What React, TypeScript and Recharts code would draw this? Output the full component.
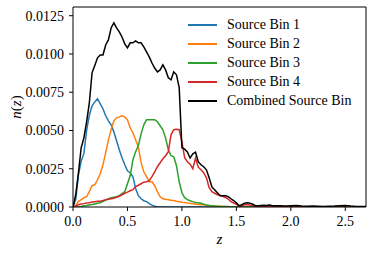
import { LineChart, Line, XAxis, YAxis, ReferenceLine } from "recharts";

const FONT = "'Liberation Serif', 'DejaVu Serif', serif";

// redshift grid (fine up to 1.85, coarser in the empty tail)
const Z = [
  0, 0.025, 0.05, 0.075, 0.1, 0.125, 0.15, 0.175, 0.2, 0.225,
  0.25, 0.275, 0.3, 0.325, 0.35, 0.375, 0.4, 0.425, 0.45, 0.475,
  0.5, 0.525, 0.55, 0.575, 0.6, 0.625, 0.65, 0.675, 0.7, 0.725,
  0.75, 0.775, 0.8, 0.825, 0.85, 0.875, 0.9, 0.925, 0.95, 0.975,
  1.0, 1.025, 1.05, 1.075, 1.1, 1.125, 1.15, 1.175, 1.2, 1.225,
  1.25, 1.275, 1.3, 1.325, 1.35, 1.375, 1.4, 1.425, 1.45, 1.475,
  1.5, 1.525, 1.55, 1.575, 1.6, 1.625, 1.65, 1.675, 1.7, 1.725,
  1.75, 1.775, 1.8, 1.825, 1.85,
  1.9, 1.95, 2.0, 2.05, 2.1, 2.15, 2.2, 2.25, 2.3, 2.35, 2.4, 2.45, 2.5,
  2.55, 2.6, 2.65, 2.69,
];

const BIN1 = [
  0, 0.00048, 0.0021, 0.003, 0.0035, 0.005, 0.006, 0.00661, 0.00687, 0.00707,
  0.00674, 0.00642, 0.00596, 0.00563, 0.00537, 0.00491, 0.00433, 0.00374, 0.00322, 0.00276,
  0.00237, 0.00224, 0.00198, 0.0012, 0.00074, 0.00054, 0.00041, 0.00035, 0.00022, 0.00012,
  0.00005, 0.00002, 0, 0, 0, 0, 0, 0, 0, 0,
  0, 0, 0, 0, 0, 0, 0, 0, 0, 0,
  0, 0, 0, 0, 0, 0, 0, 0, 0, 0,
  0, 0, 0, 0, 0, 0, 0, 0, 0, 0,
  0, 0, 0, 0, 0,
  0, 0, 0, 0, 0, 0, 0, 0, 0, 0, 0, 0, 0, 0, 0, 0, 0,
];

const BIN2 = [
  0, 0.0001, 0.00035, 0.00048, 0.00061, 0.00067, 0.001, 0.00139, 0.00145, 0.00178,
  0.00217, 0.00276, 0.00354, 0.00439, 0.00505, 0.00563, 0.00583, 0.00589, 0.00596, 0.00589,
  0.0057, 0.00518, 0.00485, 0.00439, 0.00393, 0.0029, 0.0023, 0.00198, 0.00165, 0.00165,
  0.00139, 0.001, 0.00067, 0.00054, 0.0005, 0.00048, 0.00044, 0.00042, 0.00038, 0.00035,
  0.00031, 0.00029, 0.00026, 0.00024, 0.00022, 0.0002, 0.00017, 0.00015, 0.00015, 0.00012,
  0.0001, 0.00008, 0.00007, 0.00005, 0.00005, 0.00004, 0.00003, 0.00003, 0.00002, 0.00002,
  0.00001, 0, 0, 0, 0, 0, 0, 0, 0, 0,
  0, 0, 0, 0, 0,
  0, 0, 0, 0, 0, 0, 0, 0, 0, 0, 0, 0, 0, 0, 0, 0, 0,
];

const BIN3 = [
  0, 0, 0, 0.00003, 0.00008, 0.0001, 0.00013, 0.00016, 0.0002, 0.00024,
  0.00028, 0.00035, 0.00045, 0.00054, 0.00061, 0.00064, 0.00067, 0.00074, 0.00087, 0.001,
  0.00152, 0.00204, 0.00309, 0.00361, 0.004, 0.00478, 0.00537, 0.0057, 0.0057, 0.0057,
  0.0057, 0.00557, 0.00531, 0.00505, 0.00452, 0.00374, 0.00335, 0.00328, 0.0027, 0.00165,
  0.00093, 0.00061, 0.00048, 0.00041, 0.00035, 0.0003, 0.00028, 0.00024, 0.00018, 0.00014,
  0.0001, 0.00008, 0.00006, 0.00005, 0.00004, 0.00003, 0.00003, 0.00002, 0.00002, 0.00001,
  0, 0, 0, 0, 0, 0, 0, 0, 0, 0,
  0, 0, 0, 0, 0,
  0, 0, 0, 0, 0, 0, 0, 0, 0, 0, 0, 0, 0, 0, 0, 0, 0,
];

const BIN4 = [
  0, 0.00005, 0.00015, 0.0002, 0.00022, 0.00026, 0.00028, 0.00032, 0.00035, 0.00038,
  0.00038, 0.00042, 0.00048, 0.0005, 0.00054, 0.00057, 0.00064, 0.0007, 0.0008, 0.0009,
  0.00097, 0.00106, 0.00113, 0.00133, 0.00142, 0.00152, 0.00162, 0.00165, 0.00172, 0.00198,
  0.0023, 0.00263, 0.00289, 0.00315, 0.00335, 0.00361, 0.00472, 0.00505, 0.00508, 0.00505,
  0.00426, 0.00322, 0.00296, 0.0028, 0.0025, 0.0032, 0.0026, 0.00243, 0.00224, 0.00191,
  0.00126, 0.001, 0.0009, 0.0008, 0.00077, 0.0007, 0.00062, 0.00052, 0.00035, 0.00026,
  0.00018, 0.00007, 0.00008, 0.00015, 0.00015, 0.00013, 0.00008, 0.00006, 0.00006, 0.00006,
  0.00006, 0.00005, 0.00006, 0.00005, 0.00004,
  0.00003, 0.00002, 0.00002, 0.00001, 0, 0, 0, 0, 0, 0, 0, 0, 0, 0, 0, 0, 0,
];

const COMBINED = [
  0, 0.0008, 0.00224, 0.00387, 0.00452, 0.00557, 0.0068, 0.00877, 0.00925, 0.00975,
  0.00994, 0.00994, 0.01059, 0.01092, 0.0117, 0.01203, 0.0117, 0.01144, 0.01111, 0.01066,
  0.0104, 0.01073, 0.01073, 0.01086, 0.01073, 0.01073, 0.01046, 0.01014, 0.00981, 0.00941,
  0.00908, 0.00883, 0.00896, 0.00929, 0.00896, 0.00844, 0.00831, 0.00883, 0.00864, 0.0078,
  0.00387, 0.00378, 0.0036, 0.0032, 0.00348, 0.00358, 0.00296, 0.00276, 0.00263, 0.00243,
  0.00191, 0.00131, 0.00113, 0.00093, 0.00074, 0.00074, 0.00074, 0.00067, 0.00054, 0.00041,
  0.00028, 0.00008, 0.00015, 0.00025, 0.00028, 0.00025, 0.00018, 0.00008, 0.00008, 0.0001,
  0.00012, 0.0001, 0.00013, 0.0001, 0.00008,
  0.00008, 0.00006, 0.00008, 0.0001, 0.00006, 0.00005, 0.00006, 0.00005, 0.00004, 0.00005,
  0.00006, 0.00008, 0.0001, 0.00006, 0.00004, 0.00003, 0.00003,
];

const X_MAX = 2.69;
const Y_MAX = 0.01307;
const X_TICKS = [0, 0.5, 1.0, 1.5, 2.0, 2.5];
const Y_TICKS = [0, 0.0025, 0.005, 0.0075, 0.01, 0.0125];

const SERIES = [
  { key: "bin1", name: "Source Bin 1", color: "#1f77b4", values: BIN1 },
  { key: "bin2", name: "Source Bin 2", color: "#ff7f0e", values: BIN2 },
  { key: "bin3", name: "Source Bin 3", color: "#2ca02c", values: BIN3 },
  { key: "bin4", name: "Source Bin 4", color: "#d62728", values: BIN4 },
  { key: "all", name: "Combined Source Bin", color: "#000000", values: COMBINED },
];

const data = Z.map((z, i) => {
  const row: Record<string, number> = { z };
  SERIES.forEach((s) => {
    row[s.key] = s.values[i];
  });
  return row;
});

const tickStyle = { fontFamily: FONT, fontSize: 14, fill: "#000" };

// x tick label, vertically centred a fixed distance under the tick
function XTick(props: any) {
  const { x, y, payload } = props;
  return (
    <text
      x={x}
      y={y + 6}
      textAnchor="middle"
      dominantBaseline="central"
      fontFamily={FONT}
      fontSize={14}
      fill="#000"
    >
      {Number(payload.value).toFixed(1)}
    </text>
  );
}

// legend drawn as an overlay so it doesn't eat into the plot area
function ChartLegend() {
  return (
    <div
      style={{
        position: "absolute",
        left: 188,
        top: 15.5,
        fontFamily: FONT,
        fontSize: 14,
        color: "#000",
        pointerEvents: "none",
      }}
    >
      {SERIES.map((s) => (
        <div
          key={s.key}
          style={{ display: "flex", alignItems: "center", height: 19 }}
        >
          <svg width={29} height={4} style={{ marginRight: 10 }}>
            <line x1={0} y1={2} x2={29} y2={2} stroke={s.color} strokeWidth={2} />
          </svg>
          <span style={{ whiteSpace: "nowrap" }}>{s.name}</span>
        </div>
      ))}
    </div>
  );
}

function XLabel(props: any) {
  const vb = props.viewBox;
  return (
    <text
      x={vb.x + vb.width / 2}
      y={vb.y + 32}
      textAnchor="middle"
      dominantBaseline="central"
      fontFamily={FONT}
      fontSize={15}
      fontStyle="italic"
      fill="#000"
    >
      z
    </text>
  );
}

function YLabel(props: any) {
  const vb = props.viewBox;
  const cx = vb.x + 16;
  const cy = vb.y + vb.height / 2;
  return (
    <text
      x={cx}
      y={cy}
      transform={`rotate(-90, ${cx}, ${cy})`}
      textAnchor="middle"
      dominantBaseline="central"
      fontFamily={FONT}
      fontSize={15}
      fill="#000"
    >
      <tspan fontStyle="italic">n</tspan>(<tspan fontStyle="italic">z</tspan>)
    </text>
  );
}

export default function App() {
  return (
    <div
      style={{
        position: "absolute",
        left: 0,
        top: 0,
        width: 374,
        height: 253,
        background: "#fff",
      }}
    >
      <LineChart
        width={374}
        height={253}
        data={data}
        margin={{ top: 7, right: 8, bottom: 0, left: 0 }}
      >
        <XAxis
          dataKey="z"
          type="number"
          domain={[0, X_MAX]}
          ticks={X_TICKS}
          interval={0}
          allowDataOverflow
          height={46}
          tickSize={4}
          tickMargin={4}
          tick={<XTick />}
          axisLine={{ stroke: "#000" }}
          tickLine={{ stroke: "#000" }}
          label={<XLabel />}
        />
        <YAxis
          type="number"
          domain={[0, Y_MAX]}
          ticks={Y_TICKS}
          interval={0}
          tickFormatter={(v: number) => v.toFixed(4)}
          allowDataOverflow
          width={73}
          tickSize={4}
          tickMargin={5}
          tick={tickStyle}
          axisLine={{ stroke: "#000" }}
          tickLine={{ stroke: "#000" }}
          label={<YLabel />}
        />
        {/* top and right spines */}
        <ReferenceLine y={Y_MAX} stroke="#000" strokeWidth={1} ifOverflow="visible" />
        <ReferenceLine x={X_MAX} stroke="#000" strokeWidth={1} ifOverflow="visible" />
        {SERIES.map((s) => (
          <Line
            key={s.key}
            dataKey={s.key}
            name={s.name}
            type="linear"
            stroke={s.color}
            strokeWidth={1.5}
            dot={false}
            isAnimationActive={false}
          />
        ))}
      </LineChart>
      <ChartLegend />
    </div>
  );
}
